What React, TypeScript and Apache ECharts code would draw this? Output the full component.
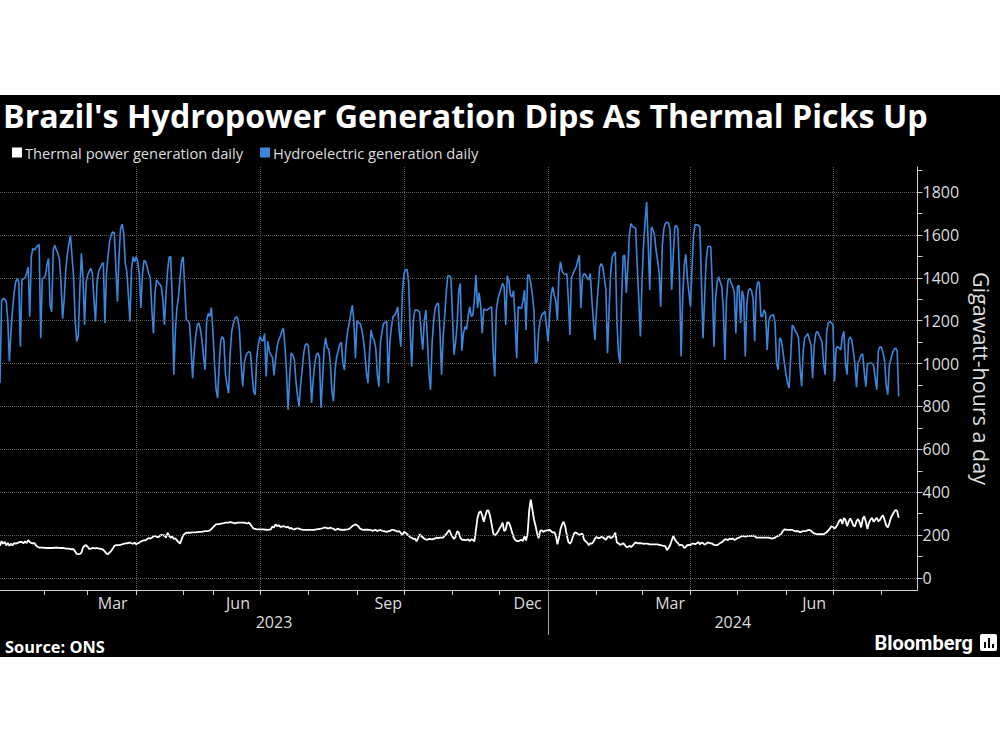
import React, { useEffect, useRef } from 'react';
import * as echarts from 'echarts';

// ---- categories (daily dates shown on the chart) ----
const startDate = '2023-01-04';
const endDate = '2024-08-24';
const missingFrom = '2023-05-10';
const missingTo = '2023-05-21';

function buildCategories(): string[] {
  const out: string[] = [];
  const d = new Date(startDate + 'T00:00:00Z');
  const end = new Date(endDate + 'T00:00:00Z');
  while (d <= end) {
    const s = d.toISOString().slice(0, 10);
    if (s < missingFrom || s > missingTo) out.push(s);
    d.setUTCDate(d.getUTCDate() + 1);
  }
  return out;
}
const categories = buildCategories();

// ---- series values (GWh per day) ----
const hydro = [
  909, 1290, 1305, 1300, 1290, 1200, 1010, 1150, 1250, 1330,
  1380, 1397, 1380, 1080, 1390, 1395, 1400, 1420, 1451, 1219,
  1500, 1537, 1530, 1540, 1550, 1555, 1118, 1397, 1400, 1410,
  1460, 1490, 1273, 1242, 1530, 1552, 1530, 1515, 1485, 1370,
  1210, 1300, 1436, 1510, 1560, 1600, 1500, 1405, 1200, 1103,
  1130, 1350, 1514, 1400, 1180, 1380, 1413, 1430, 1444, 1420,
  1300, 1196, 1380, 1430, 1445, 1465, 1470, 1190, 1420, 1500,
  1570, 1600, 1614, 1610, 1450, 1289, 1500, 1630, 1650, 1610,
  1470, 1428, 1320, 1196, 1440, 1498, 1475, 1498, 1475, 1413,
  1258, 1420, 1482, 1475, 1450, 1420, 1400, 1250, 1141, 1330,
  1390, 1380, 1370, 1360, 1300, 1180, 1320, 1430, 1495, 1500,
  1300, 948, 1150, 1260, 1310, 1400, 1480, 1498, 1350, 1203,
  1200, 1190, 1080, 932, 1050, 1130, 1180, 1190, 1160, 1110,
  1030, 971, 1200, 1234, 1220, 1262, 1150, 1000, 880, 839,
  1000, 1110, 1126, 1110, 950, 900, 862, 1050, 1150, 1185,
  1210, 1219, 1205, 1150, 1000, 893, 1000, 1035, 1050, 1056,
  1050, 950, 870, 855, 1030, 1090, 1126, 1110, 1105, 1140,
  940, 1105, 1060, 1040, 1030, 945, 1020, 1080, 1110, 1126,
  1150, 1165, 1080, 960, 785, 940, 1050, 1040, 1018, 920,
  850, 800, 900, 970, 1050, 1087, 1093, 1080, 980, 816,
  920, 1000, 1040, 1050, 1030, 793, 920, 1070, 1120, 1072,
  1068, 1000, 870, 824, 970, 1030, 1060, 1090, 1100, 1000,
  970, 1085, 1150, 1188, 1230, 1273, 1200, 1025, 1200, 1190,
  1188, 1160, 1120, 1050, 960, 909, 1050, 1157, 1120, 1110,
  1070, 950, 893, 1100, 1150, 1188, 1192, 1195, 909, 1100,
  1170, 1219, 1225, 1240, 1265, 1150, 1079, 1330, 1420, 1436,
  1440, 1380, 1150, 986, 1200, 1250, 1250, 1248, 1240, 1140,
  1065, 1200, 1250, 1110, 950, 878, 1100, 1200, 1260, 1278,
  1281, 1150, 948, 1120, 1220, 1330, 1410, 1410, 1400, 1220,
  1041, 1100, 1188, 1340, 1374, 1060, 1140, 1172, 1160, 1220,
  1265, 1220, 1225, 1300, 1413, 1258, 1330, 1270, 1141, 1255,
  1250, 1250, 1255, 1260, 1265, 1050, 940, 1250, 1300, 1327,
  1350, 1374, 1358, 1180, 1410, 1390, 1320, 1310, 1340, 1200,
  1025, 1265, 1260, 1258, 1290, 1343, 1157, 1413, 1413, 1374,
  1320, 1250, 1002, 1010, 1150, 1200, 1227, 1234, 1245, 1180,
  1103, 1220, 1320, 1358, 1320, 1290, 1203, 1420, 1475, 1430,
  1420, 1415, 1420, 1300, 1134, 1400, 1420, 1436, 1450, 1480,
  1506, 1260, 1400, 1420, 1415, 1400, 1390, 1420, 1300, 1200,
  1110, 1250, 1350, 1450, 1467, 1450, 1400, 1340, 1048, 1250,
  1420, 1498, 1510, 1521, 1200, 1050, 1002, 1300, 1500, 1506,
  1330, 1450, 1600, 1653, 1640, 1635, 1630, 1450, 1300, 1126,
  1374, 1550, 1660, 1754, 1560, 1343, 1637, 1625, 1600, 1530,
  1480, 1420, 1265, 1550, 1630, 1653, 1660, 1655, 1620, 1343,
  1500, 1637, 1645, 1625, 1400, 1033, 1300, 1460, 1510, 1400,
  1330, 1265, 1450, 1600, 1650, 1648, 1645, 1637, 1380, 1118,
  1300, 1480, 1544, 1548, 1544, 1350, 1079, 1300, 1380, 1405,
  1380, 1360, 1250, 1017, 1300, 1390, 1397, 1375, 1360, 1330,
  1141, 1360, 1365, 1188, 1340, 1310, 1033, 1280, 1340, 1350,
  1340, 1300, 1103, 1340, 1382, 1375, 1220, 1220, 1250, 1235,
  1064, 1200, 1220, 1225, 1230, 1190, 1000, 971, 1120, 1110,
  1060, 1002, 950, 910, 886, 1030, 1180, 1170, 1150, 1140,
  1120, 980, 893, 1060, 1120, 1130, 1140, 1110, 1087, 932,
  1080, 1140, 1150, 1135, 1118, 1100, 1000, 948, 1150, 1190,
  1196, 1190, 1180, 917, 1070, 1080, 1072, 1064, 1126, 1150,
  1000, 948, 1110, 1125, 1110, 1060, 1000, 890, 1000, 1020,
  1040, 1045, 960, 893, 1000, 1000, 1003, 1002, 990, 930,
  878, 1060, 1079, 1075, 1050, 1010, 900, 855, 990, 1020,
  1050, 1066, 1072, 1060, 847,
];

const thermal = [
  150, 172, 160, 168, 152, 163, 150, 160, 152, 163,
  160, 163, 166, 168, 168, 162, 171, 163, 177, 168,
  163, 162, 163, 152, 146, 142, 142, 142, 141, 140,
  140, 140, 140, 140, 140, 141, 142, 141, 140, 140,
  140, 139, 137, 137, 137, 135, 134, 134, 124, 113,
  111, 112, 118, 142, 150, 153, 145, 136, 137, 140,
  139, 138, 140, 137, 137, 135, 131, 123, 114, 111,
  119, 126, 137, 149, 153, 153, 153, 155, 157, 159,
  161, 162, 164, 165, 162, 160, 165, 157, 162, 165,
  171, 173, 176, 175, 182, 186, 184, 188, 194, 196,
  192, 190, 196, 202, 198, 200, 188, 211, 196, 188,
  194, 182, 185, 175, 168, 160, 180, 200, 206, 211,
  211, 211, 212, 213, 213, 213, 214, 215, 215, 215,
  217, 219, 219, 219, 222, 228, 236, 244, 250, 251,
  251, 253, 255, 256, 258, 258, 258, 261, 259, 257,
  255, 257, 258, 258, 258, 258, 258, 256, 255, 258,
  250, 239, 230, 229, 227, 227, 227, 227, 227, 226,
  225, 224, 226, 227, 240, 236, 250, 242, 246, 239,
  239, 242, 239, 236, 239, 230, 234, 228, 227, 230,
  232, 230, 227, 226, 224, 224, 224, 224, 224, 224,
  224, 225, 227, 228, 229, 230, 232, 235, 235, 232,
  231, 235, 232, 230, 224, 227, 230, 225, 226, 224,
  225, 226, 227, 229, 235, 242, 246, 250, 246, 240,
  230, 227, 224, 225, 226, 225, 224, 223, 220, 223,
  224, 219, 222, 224, 220, 218, 217, 215, 218, 219,
  224, 224, 222, 219, 216, 219, 210, 200, 215, 212,
  205, 198, 190, 188, 181, 184, 171, 186, 204, 196,
  190, 183, 180, 178, 182, 181, 180, 182, 185, 188,
  186, 188, 188, 188, 198, 204, 215, 224, 206, 192,
  182, 192, 218, 212, 188, 178, 179, 177, 178, 180,
  172, 180, 178, 171, 227, 281, 305, 312, 290, 262,
  290, 314, 315, 290, 250, 210, 198, 206, 215, 230,
  242, 258, 219, 225, 260, 258, 240, 215, 190, 178,
  173, 171, 175, 178, 173, 195, 175, 210, 315, 366,
  320, 274, 245, 210, 185, 220, 222, 215, 220, 222,
  222, 225, 218, 212, 214, 200, 157, 188, 227, 250,
  262, 240, 200, 168, 160, 170, 196, 211, 211, 206,
  200, 205, 207, 180, 171, 165, 153, 162, 160, 168,
  183, 192, 186, 186, 192, 190, 184, 178, 190, 196,
  186, 190, 196, 211, 165, 162, 155, 157, 162, 155,
  145, 144, 150, 145, 150, 160, 166, 162, 162, 162,
  161, 159, 160, 160, 159, 157, 157, 157, 157, 157,
  157, 155, 153, 151, 150, 148, 130, 140, 153, 175,
  196, 180, 170, 163, 152, 155, 152, 140, 145, 153,
  155, 153, 160, 160, 158, 162, 168, 157, 165, 163,
  155, 160, 166, 164, 162, 160, 154, 153, 153, 158,
  164, 166, 174, 180, 180, 177, 184, 181, 184, 178,
  180, 186, 188, 192, 196, 195, 193, 195, 196, 196,
  196, 198, 196, 188, 188, 188, 188, 188, 188, 188,
  188, 188, 186, 184, 186, 188, 194, 196, 200, 206,
  219, 227, 226, 224, 224, 224, 224, 221, 218, 218,
  218, 213, 216, 219, 219, 220, 223, 224, 220, 213,
  208, 206, 205, 204, 204, 204, 204, 209, 213, 222,
  230, 241, 238, 230, 238, 250, 266, 274, 252, 280,
  270, 242, 262, 278, 265, 245, 240, 265, 275, 260,
  236, 275, 288, 262, 228, 258, 272, 280, 262, 272,
  281, 265, 270, 285, 292, 270, 245, 236, 255, 281,
  295, 308, 317, 312, 281,
];

// ---- labels and ticks ----
const seriesNames = ['Thermal power generation daily', 'Hydroelectric generation daily'];
const yTickValues = [0, 100, 200, 300, 400, 500, 600, 700, 800, 900, 1000, 1100, 1200, 1300, 1400, 1500, 1600, 1700, 1800, 1900];
const yLabelValues = [0, 200, 400, 600, 800, 1000, 1200, 1400, 1600, 1800];
const monthLabelDates = ['2023-03-17', '2023-06-17', '2023-09-21', '2023-12-19', '2024-03-19', '2024-06-19'];
const monthLabelTexts = ['Mar', 'Jun', 'Sep', 'Dec', 'Mar', 'Jun'];
const quarterDates = ['2023-04-01', '2023-07-01', '2023-10-01', '2024-01-01', '2024-04-01', '2024-07-01'];
const yearLabelTexts = ['2023', '2024'];
const yearBoundary = '2024-01-01';

const titleText = "Brazil's Hydropower Generation Dips As Thermal Picks Up";
const sourceText = 'Source: ONS';
const yAxisName = 'Gigawatt-hours a day';

const FONT = '"Open Sans", Roboto, "Liberation Sans", sans-serif';
const LOGO_FONT = 'Roboto, "Liberation Sans", sans-serif';

export default function App() {
  const ref = useRef<HTMLDivElement>(null);

  useEffect(() => {
    if (!ref.current) return;
    const chart = echarts.init(ref.current, undefined, { renderer: 'svg' });

    const boundaryIdx = categories.indexOf(yearBoundary);
    const idx2023 = Math.round((0 + boundaryIdx - 1) / 2);
    const idx2024 = Math.round((boundaryIdx + categories.length - 1) / 2);

    const option: any = {
      animation: false,
      backgroundColor: '#000000',
      textStyle: { fontFamily: FONT },
      legend: {
        data: seriesNames,
        left: 7,
        top: 45,
        icon: 'rect',
        itemWidth: 10,
        itemHeight: 10,
        itemGap: 17,
        selectedMode: false,
        textStyle: { color: '#dcdcdc', fontSize: 14.7, fontFamily: FONT, padding: [0, 0, 0, -2] },
      },
      grid: { left: 0, right: 77, top: 72, bottom: 67, containLabel: false },
      xAxis: [
        {
          type: 'category',
          data: categories,
          boundaryGap: false,
          position: 'bottom',
          axisLine: { show: true, onZero: false, lineStyle: { color: '#cfcfcf', width: 1 } },
          axisTick: {
            show: true,
            length: 5,
            interval: (_i: number, v: string) => v.endsWith('-01'),
            lineStyle: { color: '#cfcfcf' },
          },
          axisLabel: {
            interval: (_i: number, v: string) => monthLabelDates.indexOf(v) >= 0,
            formatter: (v: string) => monthLabelTexts[monthLabelDates.indexOf(v)] || '',
            color: '#dcdcdc',
            fontSize: 16,
            margin: 5,
            fontFamily: FONT,
          },
          splitLine: {
            show: true,
            interval: (_i: number, v: string) => quarterDates.indexOf(v) >= 0,
            lineStyle: { type: 'dotted', color: '#5c5c5c', width: 1 },
          },
        },
        {
          type: 'category',
          data: categories,
          boundaryGap: false,
          position: 'bottom',
          axisLine: { show: false, onZero: false },
          axisTick: {
            show: true,
            length: 45,
            interval: (_i: number, v: string) => v === yearBoundary,
            lineStyle: { color: '#9a9a9a' },
          },
          axisLabel: {
            interval: (i: number) => i === idx2023 || i === idx2024,
            formatter: (_v: string, i: number) => (i === idx2023 ? yearLabelTexts[0] : yearLabelTexts[1]),
            color: '#dcdcdc',
            fontSize: 16,
            margin: 24,
            fontFamily: FONT,
          },
          splitLine: { show: false },
        },
      ],
      yAxis: {
        type: 'value',
        position: 'right',
        min: -56,
        max: 1917,
        axisLine: { show: true, lineStyle: { color: '#cfcfcf', width: 1 } },
        axisTick: { show: true, length: 5, customValues: yTickValues, lineStyle: { color: '#cfcfcf' } },
        axisLabel: {
          customValues: yLabelValues,
          formatter: (v: number) => String(v),
          color: '#dcdcdc',
          fontSize: 16,
          margin: 5,
          fontFamily: FONT,
        },
        splitLine: { show: false },
        name: yAxisName,
        nameLocation: 'middle',
        nameRotate: -90,
        nameGap: 52,
        nameTextStyle: { color: '#dcdcdc', fontSize: 21.5, fontFamily: FONT },
      },
      series: [
        {
          name: seriesNames[0],
          type: 'line',
          data: thermal,
          showSymbol: false,
          symbol: 'none',
          color: '#ffffff',
          lineStyle: { color: '#ffffff', width: 1.8 },
          emphasis: { disabled: true },
          z: 3,
          markLine: {
            silent: true,
            symbol: ['none', 'none'],
            label: { show: false },
            lineStyle: { type: 'dotted', color: '#5c5c5c', width: 1 },
            emphasis: { disabled: true },
            data: yLabelValues.map((v) => ({ yAxis: v })),
          },
        },
        {
          name: seriesNames[1],
          type: 'line',
          data: hydro,
          showSymbol: false,
          symbol: 'none',
          color: '#3d86de',
          lineStyle: { color: '#3d86de', width: 1.6 },
          emphasis: { disabled: true },
          z: 3,
        },
      ],
      graphic: [
        {
          type: 'text',
          x: 3,
          y: 20,
          style: {
            text: titleText,
            fill: '#ffffff',
            font: `bold 32.2px ${FONT}`,
            lineHeight: 34,
            align: 'left',
            verticalAlign: 'middle',
          },
        },
        {
          type: 'text',
          x: 5,
          y: 551,
          style: { text: sourceText, fill: '#ffffff', font: `bold 16.4px ${FONT}`, align: 'left', verticalAlign: 'middle' },
        },
        {
          type: 'text',
          x: 973,
          y: 548,
          style: { text: 'Bloomberg', fill: '#ffffff', font: `bold 20px ${LOGO_FONT}`, align: 'right', verticalAlign: 'middle' },
        },
        {
          type: 'group',
          children: [
            { type: 'rect', shape: { x: 980, y: 539, width: 17, height: 17, r: 2 }, style: { fill: '#ffffff' } },
            { type: 'rect', shape: { x: 984, y: 547, width: 2, height: 6 }, style: { fill: '#000000' } },
            { type: 'rect', shape: { x: 988, y: 543, width: 2, height: 10 }, style: { fill: '#000000' } },
            { type: 'rect', shape: { x: 992, y: 549, width: 2, height: 4 }, style: { fill: '#000000' } },
          ],
        },
      ],
    };

    chart.setOption(option);
    return () => chart.dispose();
  }, []);

  return (
    <div style={{ position: 'fixed', left: 0, top: 0, width: 1000, height: 750, background: '#ffffff' }}>
      <div ref={ref} style={{ position: 'absolute', left: 0, top: 95, width: 1000, height: 562 }} />
    </div>
  );
}
